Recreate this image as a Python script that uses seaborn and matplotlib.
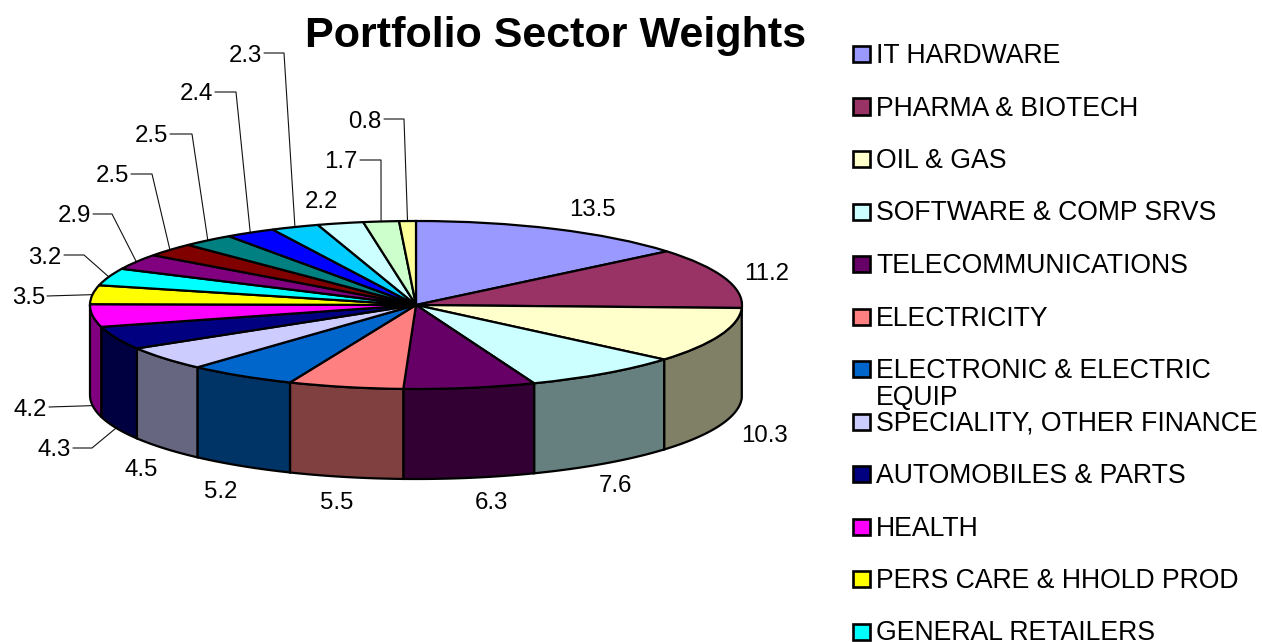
import numpy as np
import matplotlib
matplotlib.use("Agg")
import matplotlib.pyplot as plt
from matplotlib.patches import Rectangle
import seaborn as sns

# sector weights, clockwise from 12 o'clock
weights = [13.5, 11.2, 10.3, 7.6, 6.3, 5.5, 5.2, 4.5, 4.3, 4.2,
           3.5, 3.2, 2.9, 2.5, 2.5, 2.4, 2.3, 2.2, 1.7, 0.8]
slice_colors = ["#9999FF", "#993366", "#FFFFCC", "#CCFFFF", "#660066",
                "#FF8080", "#0066CC", "#CCCCFF", "#000080", "#FF00FF",
                "#FFFF00", "#00FFFF", "#800080", "#800000", "#008080",
                "#0000FF", "#00CCFF", "#CCFFFF", "#CCFFCC", "#FFFF99"]
# the legend box only has room for the first 12 names
legend_names = ["IT HARDWARE", "PHARMA & BIOTECH", "OIL & GAS",
                "SOFTWARE & COMP SRVS", "TELECOMMUNICATIONS", "ELECTRICITY",
                "ELECTRONIC & ELECTRIC\nEQUIP", "SPECIALITY, OTHER FINANCE",
                "AUTOMOBILES & PARTS", "HEALTH", "PERS CARE & HHOLD PROD",
                "GENERAL RETAILERS"]

# layout, in pixels of the output picture
W, H = 1262, 642
CX, CY, RX, RY = 416, 305, 326, 84
DEPTH = 90 / RY
label_pos = [(592, 207), (767, 271), (764, 433), (615, 484), (491, 500),
             (337, 500), (221, 489), (141, 467), (54, 448), (30, 407),
             (29, 296), (45, 255), (74, 214), (112, 174), (151, 134),
             (196, 92), (245, 53), (321, 200), (341, 160), (365, 119)]
# slice index -> where its leader line leaves the label and bends
leaders = {8: [(73, 448), (92, 448)], 9: [(49, 407)], 10: [(47, 296)],
           11: [(64, 255), (84, 255)], 12: [(93, 214), (112, 214)],
           13: [(131, 174), (152, 174)], 14: [(170, 134), (192, 134)],
           15: [(215, 92), (236, 92)], 16: [(264, 53), (284, 53)],
           18: [(360, 160), (381, 160)], 19: [(384, 119), (404, 119)]}


def px(x, y):
    return (x - CX) / RX, (CY - y) / RY


sns.set_theme(style="white")
plt.rcParams["font.family"] = ["Liberation Sans", "DejaVu Sans"]

fig = plt.figure(figsize=(W / 100, H / 100), dpi=100, facecolor="white")
ax = fig.add_axes([0, 0, 1, 1])

palette = sns.color_palette(slice_colors)
LW = 1.6

# top of the pie: a normal pie, squashed later by the axis limits
ax.pie(weights, colors=palette, startangle=90, counterclock=False, radius=1,
       wedgeprops=dict(edgecolor="black", linewidth=LW, zorder=3))
ax.set_aspect("auto")
ax.set_xlim(px(0, 0)[0], px(W, 0)[0])
ax.set_ylim(px(0, H)[1], px(0, 0)[1])
ax.axis("off")

# side wall, only the front half shows, in half-brightness colours
fracs = np.cumsum([0] + weights) / sum(weights)
starts = 90 - fracs[:-1] * 360
ends = 90 - fracs[1:] * 360
for a0, a1, col in zip(starts, ends, palette):
    lo, hi = (a1 + 360) % 360, (a0 + 360) % 360
    if hi < lo:
        lo -= 360
    lo, hi = max(lo, 180), min(hi, 360)
    if hi <= lo:
        continue
    th = np.radians(np.linspace(lo, hi, 40))
    xs = np.cos(th)
    ys = np.sin(th)
    ax.fill(np.r_[xs, xs[::-1]], np.r_[ys, ys[::-1] - DEPTH],
            facecolor=tuple(c / 2 for c in col), edgecolor="black",
            linewidth=LW, zorder=2)

# data labels and leader lines
mids = np.radians((starts + ends) / 2)
for i, (val, (lx, ly)) in enumerate(zip(weights, label_pos)):
    x, y = px(lx, ly)
    ax.text(x, y, f"{val:.1f}", fontsize=17.3, color="black",
            ha="center", va="center_baseline")
    if i in leaders:
        ex, ey = np.cos(mids[i]), np.sin(mids[i])
        if ey < 0 and i in (8, 9):
            ey -= DEPTH
        pts = [px(*p) for p in leaders[i]] + [(ex, ey)]
        ax.plot(*zip(*pts), color="#111111", linewidth=0.8, zorder=1)

ax.text(*px(555.5, 32), "Portfolio Sector Weights", fontsize=31.1,
        fontweight="bold", color="black", ha="center", va="center_baseline")

# legend is laid out by hand since the wrapped row overlaps the next one
for i, name in enumerate(legend_names):
    row_y = 54 + i * 52.5
    x0, y0 = px(853, row_y + 8)
    x1, y1 = px(870, row_y - 8)
    ax.add_patch(Rectangle((x0, y0), x1 - x0, y1 - y0, facecolor=palette[i],
                           edgecolor="black", linewidth=LW + 0.3, zorder=3))
    for j, part in enumerate(name.split("\n")):
        ax.text(*px(876, row_y - 1 + j * 27), part, fontsize=19.2,
                color="black", ha="left", va="center_baseline")

fig.savefig("out.png", dpi=100, facecolor="white")
